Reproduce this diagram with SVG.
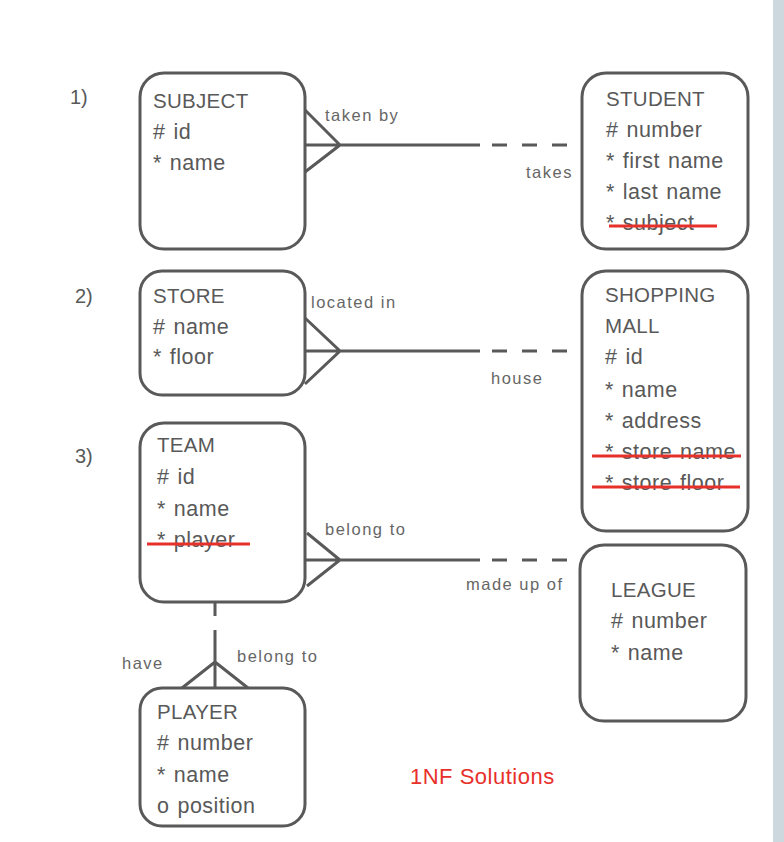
<svg xmlns="http://www.w3.org/2000/svg" width="784" height="842" viewBox="0 0 784 842">
<style>
.box{fill:#fff;stroke:#595959;stroke-width:3}
.h{font-family:"Liberation Sans",Arial,sans-serif;font-size:20.5px;fill:#595959;letter-spacing:0.3px}
.t{font-family:"Liberation Sans",Arial,sans-serif;font-size:21.5px;fill:#595959;word-spacing:1.5px;letter-spacing:0.5px}
.l{font-family:"Liberation Sans",Arial,sans-serif;font-size:16.5px;fill:#666;letter-spacing:1.5px}
.n{font-family:"Liberation Sans",Arial,sans-serif;font-size:20px;fill:#595959}
.c{stroke:#595959;stroke-width:3;fill:none}
.d{stroke:#595959;stroke-width:3;fill:none;stroke-dasharray:15 15}
.x{stroke:#e8302a;stroke-width:3}
</style>
<rect x="0" y="0" width="784" height="842" fill="#fff"/>
<rect x="773" y="0" width="11" height="842" fill="#cdd8de"/>
<text class="n" x="70" y="104">1)</text>
<text class="n" x="75" y="303">2)</text>
<text class="n" x="75" y="463">3)</text>
<g id="connectors">
<path class="c" d="M305,110 L340,145 L305,172 M305,145 L480,145"/>
<path class="d" d="M492,145 L567,145"/>
<path class="c" d="M305,318 L340,351 L305,384 M305,351 L480,351"/>
<path class="d" d="M492,351 L567,351"/>
<path class="c" d="M307,533 L340,560 L307,586 M305,560 L480,560"/>
<path class="d" d="M492,560 L567,560"/>
<path class="c" d="M215,602 L215,616 M215,630 L215,688 M182,688 L215,662 L248,688"/>
<text class="l" x="325" y="121">taken by</text>
<text class="l" x="526" y="178">takes</text>
<text class="l" x="311" y="308">located in</text>
<text class="l" x="491" y="384">house</text>
<text class="l" x="325" y="535">belong to</text>
<text class="l" x="466" y="590">made up of</text>
<text class="l" x="122" y="669">have</text>
<text class="l" x="237" y="662">belong to</text>
</g>
<g id="subject">
<rect class="box" x="140" y="73" width="165" height="176" rx="24"/>
<text class="h" x="153" y="108">SUBJECT</text>
<text class="t" x="153" y="139"># id</text>
<text class="t" x="153" y="170">* name</text>
</g>
<g id="student">
<rect class="box" x="582" y="73" width="166" height="176" rx="24"/>
<text class="h" x="606" y="106">STUDENT</text>
<text class="t" x="606" y="137"># number</text>
<text class="t" x="606" y="168">* first name</text>
<text class="t" x="606" y="199">* last name</text>
<text class="t" x="606" y="230">* subject</text>
<line class="x" x1="609" y1="226" x2="717" y2="226"/>
</g>
<g id="store">
<rect class="box" x="140" y="271" width="165" height="124" rx="22"/>
<text class="h" x="153" y="303">STORE</text>
<text class="t" x="153" y="334"># name</text>
<text class="t" x="153" y="364">* floor</text>
</g>
<g id="mall">
<rect class="box" x="582" y="271" width="166" height="260" rx="24"/>
<text class="h" x="605" y="302">SHOPPING</text>
<text class="h" x="605" y="333">MALL</text>
<text class="t" x="605" y="364"># id</text>
<text class="t" x="605" y="397">* name</text>
<text class="t" x="605" y="428">* address</text>
<text class="t" x="605" y="459">* store name</text>
<text class="t" x="605" y="490">* store floor</text>
<line class="x" x1="592" y1="456" x2="741" y2="456"/>
<line class="x" x1="592" y1="487" x2="740" y2="487"/>
</g>
<g id="team">
<rect class="box" x="140" y="423" width="165" height="179" rx="24"/>
<text class="h" x="157" y="452">TEAM</text>
<text class="t" x="157" y="484"># id</text>
<text class="t" x="157" y="516">* name</text>
<text class="t" x="157" y="547">* player</text>
<line class="x" x1="147" y1="544" x2="250" y2="544"/>
</g>
<g id="league">
<rect class="box" x="580" y="545" width="166" height="176" rx="24"/>
<text class="h" x="611" y="597">LEAGUE</text>
<text class="t" x="611" y="628"># number</text>
<text class="t" x="611" y="660">* name</text>
</g>
<g id="player">
<rect class="box" x="140" y="688" width="165" height="138" rx="22"/>
<text class="h" x="157" y="719">PLAYER</text>
<text class="t" x="157" y="750"># number</text>
<text class="t" x="157" y="782">* name</text>
<text class="t" x="157" y="813">o position</text>
</g>
<text x="410" y="784" font-family="Liberation Sans,Arial,sans-serif" font-size="22" letter-spacing="0.5" fill="#e8302a">1NF Solutions</text>
</svg>
